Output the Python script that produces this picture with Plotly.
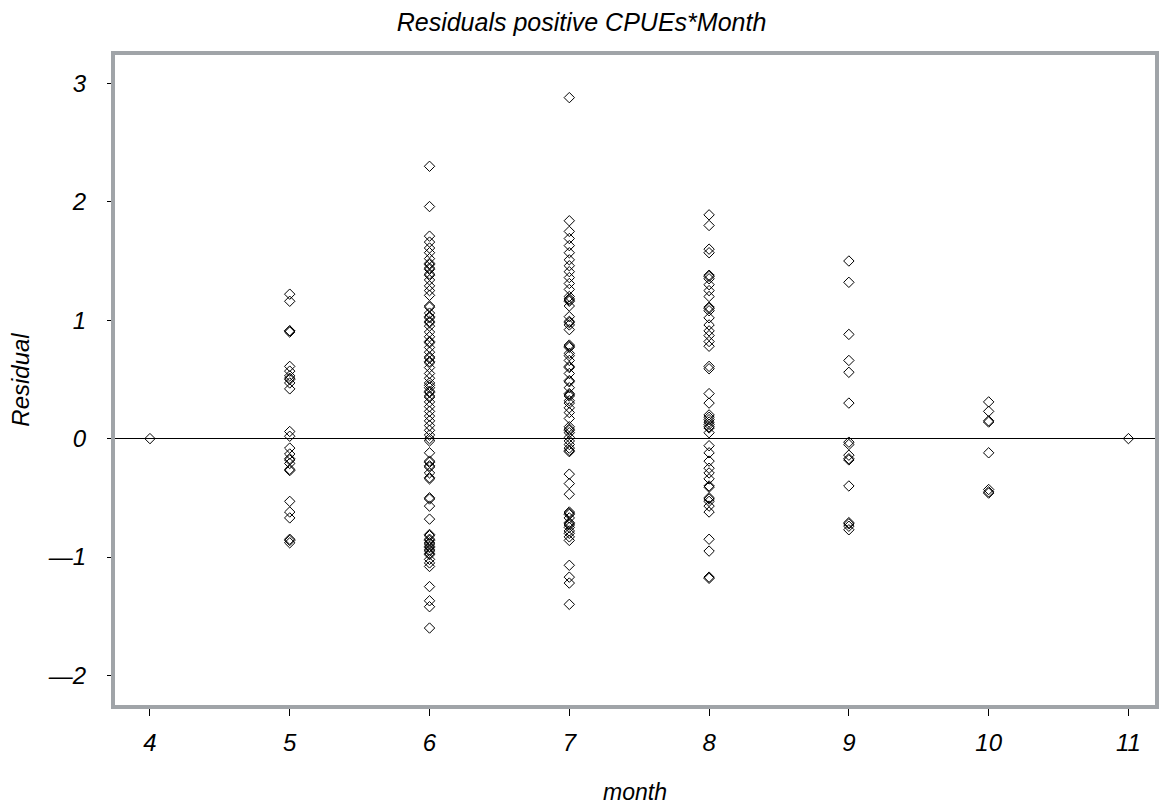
import plotly.graph_objects as go

months = [4, 5, 6, 7, 8, 9, 10, 11]

res_m4 = [0.0]
res_m5 = [1.22, 1.16, 0.91, 0.91, 0.90, 0.61, 0.57, 0.53, 0.51, 0.50, 0.47, 0.42,
          0.06, 0.02, -0.08, -0.13, -0.17, -0.18, -0.21, -0.26, -0.27, -0.53,
          -0.62, -0.67, -0.85, -0.86, -0.88]
res_m6 = [2.30, 1.96, 1.71, 1.66, 1.61, 1.57, 1.52, 1.48, 1.47, 1.44, 1.43, 1.39,
          1.38, 1.34, 1.29, 1.25, 1.21, 1.12, 1.11, 1.06, 1.03, 1.02, 0.99, 0.98,
          0.95, 0.90, 0.86, 0.82, 0.81, 0.77, 0.73, 0.69, 0.68, 0.65, 0.64, 0.60,
          0.55, 0.51, 0.47, 0.45, 0.43, 0.40, 0.39, 0.36, 0.35, 0.31, 0.27, 0.23,
          0.19, 0.15, 0.11, 0.07, 0.03, 0.00,
          -0.02, -0.12, -0.19, -0.20, -0.23, -0.24, -0.29, -0.33, -0.34, -0.50,
          -0.51, -0.57, -0.68, -0.81, -0.82, -0.85, -0.86, -0.88, -0.89, -0.91,
          -0.92, -0.94, -0.95, -0.97, -0.98, -1.02, -1.05, -1.08, -1.25, -1.37,
          -1.42, -1.60]
res_m7 = [2.88, 1.84, 1.75, 1.69, 1.63, 1.57, 1.51, 1.46, 1.41, 1.36, 1.31, 1.26,
          1.20, 1.18, 1.17, 1.16, 1.12, 1.03, 0.99, 0.98, 0.96, 0.92, 0.79, 0.78,
          0.77, 0.72, 0.70, 0.66, 0.61, 0.60, 0.55, 0.49, 0.48, 0.43, 0.38, 0.37,
          0.36, 0.32, 0.30, 0.26, 0.22, 0.17, 0.10, 0.08, 0.07, 0.05, 0.01, -0.02,
          -0.05, -0.08, -0.10, -0.11, -0.30, -0.38, -0.47, -0.62, -0.63, -0.64,
          -0.67, -0.71, -0.72, -0.73, -0.75, -0.78, -0.80, -0.83, -0.86, -1.07,
          -1.17, -1.22, -1.40]
res_m8 = [1.89, 1.80, 1.60, 1.57, 1.38, 1.37, 1.35, 1.30, 1.25, 1.20, 1.11, 1.10,
          1.08, 1.02, 0.96, 0.91, 0.87, 0.82, 0.78, 0.61, 0.59, 0.38, 0.30, 0.20,
          0.18, 0.16, 0.14, 0.12, 0.10, 0.09, 0.05, -0.06, -0.12, -0.19, -0.25,
          -0.29, -0.34, -0.40, -0.41, -0.50, -0.51, -0.53, -0.57, -0.62, -0.85,
          -0.95, -1.17, -1.18]
res_m9 = [1.50, 1.32, 0.88, 0.66, 0.56, 0.30, -0.03, -0.05, -0.14, -0.17, -0.18,
          -0.40, -0.71, -0.72, -0.74, -0.77]
res_m10 = [0.31, 0.23, 0.15, 0.14, -0.12, -0.43, -0.45, -0.46]
res_m11 = [0.0]

residuals = [res_m4, res_m5, res_m6, res_m7, res_m8, res_m9, res_m10, res_m11]

x_ticks = [4, 5, 6, 7, 8, 9, 10, 11]
y_ticks = [-2, -1, 0, 1, 2, 3]
y_ticktext = ["\u20142", "\u20141", "0", "1", "2", "3"]

xs, ys = [], []
for m, vals in zip(months, residuals):
    xs.extend([m] * len(vals))
    ys.extend(vals)

FONT = "Liberation Sans, Arial, sans-serif"
FRAME = "#a0a4a8"

fig = go.Figure()
fig.add_trace(go.Scatter(
    x=xs, y=ys, mode="markers",
    marker=dict(symbol="diamond-open", size=8, color="black",
                line=dict(width=1, color="black")),
    showlegend=False, hoverinfo="x+y",
))

fig.update_layout(
    width=1163, height=806,
    paper_bgcolor="white", plot_bgcolor="white",
    margin=dict(l=115, r=4, t=55, b=95),
    title=dict(text="Residuals positive CPUEs*Month", xref="container", x=0.5,
               xanchor="center", yref="container", y=0.973, yanchor="middle",
               font=dict(family=FONT, size=25, color="black", style="italic")),
    font=dict(family=FONT, color="black"),
)

fig.update_xaxes(
    range=[3.75, 11.19], tickmode="array", tickvals=x_ticks,
    ticktext=[str(t) for t in x_ticks],
    showgrid=False, zeroline=False,
    showline=True, mirror=True, linecolor=FRAME, linewidth=4,
    ticks="outside", ticklen=7, tickwidth=1, tickcolor="black",
    ticklabelstandoff=6,
    tickfont=dict(family=FONT, size=24, color="black", style="italic"),
    title=dict(text="month", standoff=30,
               font=dict(family=FONT, size=23, color="black", style="italic")),
)
fig.update_yaxes(
    range=[-2.25, 3.24], tickmode="array", tickvals=y_ticks,
    ticktext=y_ticktext,
    showgrid=False,
    zeroline=True, zerolinecolor="black", zerolinewidth=1,
    showline=True, mirror=True, linecolor=FRAME, linewidth=4,
    ticks="outside", ticklen=4, tickwidth=1, tickcolor="black",
    ticklabelstandoff=16,
    tickfont=dict(family=FONT, size=24, color="black", style="italic"),
    title=dict(text="Residual", standoff=12,
               font=dict(family=FONT, size=24, color="black", style="italic")),
)

fig.write_html("out.html", config={"displayModeBar": False},
               post_script="document.body.style.margin='0';")
